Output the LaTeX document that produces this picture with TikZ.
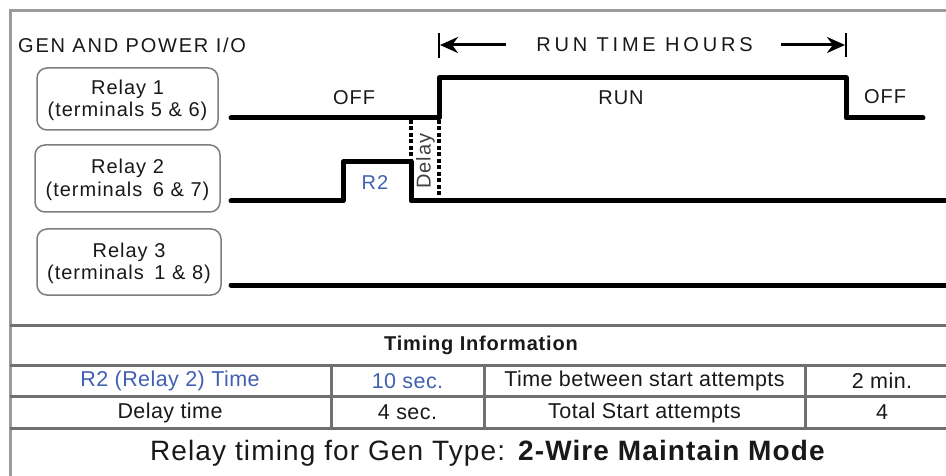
\documentclass[tikz,border=0pt]{standalone}
\usepackage{fontspec}
\setmainfont{Liberation Sans}[LetterSpace=5]
\usetikzlibrary{arrows.meta}
\definecolor{frameg}{RGB}{155,155,155}
\definecolor{tblg}{RGB}{112,112,112}
\definecolor{boxg}{RGB}{125,125,125}
\definecolor{bluet}{RGB}{66,96,178}
\definecolor{txt}{RGB}{25,25,25}
\tikzset{
  sig/.style={line width=5pt, line cap=round, line join=round, black},
  dotline/.style={line width=4.5pt, dash pattern=on 4pt off 2.5pt, black},
  relaybox/.style={draw=boxg, line width=1.5pt, rounded corners=10pt, align=center,
    inner sep=0pt, text=txt, font=\fontsize{20}{22.5}\selectfont},
  lbl/.style={text=txt, inner sep=0pt, font=\fontsize{20}{23}\selectfont},
  tline/.style={draw=tblg, line width=3pt},
  cell/.style={inner sep=0pt, text=txt, font=\fontsize{21.5}{23}\selectfont\addfontfeature{LetterSpace=2}},
  bar/.style={line width=1.5pt, black},
  rtarrow/.style={line width=3pt, black, -{Stealth[length=18pt,width=16pt]}},
}
\begin{document}
\begin{tikzpicture}[x=1pt,y=-1pt]
\useasboundingbox (0,0) rectangle (946,476);
\clip (0,0) rectangle (946,476);
\fill[white] (0,0) rectangle (946,476);

% outer frame
\draw[frameg, line width=3pt] (10,490) -- (10,10.5) -- (970,10.5);

% header
\node[lbl, anchor=west, font=\fontsize{20}{23}\selectfont\addfontfeature{LetterSpace=9}] (hdr) at (18,45) {GEN AND POWER I/O};

% relay boxes
\node[relaybox, minimum width=181pt, minimum height=62pt] (r1) at (127.5,99) {};
\node[relaybox, minimum width=185pt, minimum height=67pt] (r2) at (127.5,178.5) {};
\node[relaybox, minimum width=184pt, minimum height=66pt] (r3) at (129,262) {};
\node[relaybox, draw=none] (t1) at ([yshift=-1.5pt]r1.center) {Relay 1\\(terminals 5 \& 6)};
\node[relaybox, draw=none] (t2) at ([yshift=-1.5pt]r2.center) {Relay 2\\(terminals\hspace{4pt} 6 \& 7)};
\node[relaybox, draw=none] (t3) at ([yshift=-1.5pt]r3.center) {Relay 3\\(terminals\hspace{4pt} 1 \& 8)};

% signals
\draw[sig] (231,118) -- (439,118) -- (439,78) -- (846,78) -- (846,118) -- (923,118);
\draw[sig] (231,201) -- (343,201) -- (343,162) -- (411,162) -- (411,201) -- (970,201);
\draw[sig] (231,285) -- (970,285);

% delay dotted lines
\draw[dotline] (411,120) -- (411,199);
\draw[dotline] (439,120) -- (439,199);
\node[lbl, rotate=90, text=black!75] (dly) at (425.5,161) {Delay};

% labels
\node[lbl] (off1) at (354,98) {OFF};
\node[lbl] (run) at (621,98) {RUN};
\node[lbl] (off2) at (885,97) {OFF};
\node[lbl, text=bluet] (r2lbl) at (375,183) {R2};

% run time hours
\node[lbl, font=\fontsize{20}{23}\selectfont\addfontfeature{LetterSpace=19}] (rth) at (644.5,45) {RUN TIME HOURS};
\coordinate (lb1) at (439,33); \coordinate (lb2) at (439,58);
\coordinate (rb1) at (846,33); \coordinate (rb2) at (846,57);
\coordinate (la) at (506,45); \coordinate (lt) at (440,45);
\coordinate (ra) at (781,45); \coordinate (rt) at (845,45);
\draw[bar] (lb1) -- (lb2);
\draw[bar] (rb1) -- (rb2);
\draw[rtarrow] (la) -- (lt);
\draw[rtarrow] (ra) -- (rt);

% table
\draw[tline] (10,325) -- (970,325);
\draw[tline] (10,365) -- (970,365);
\draw[tline] (10,396.5) -- (970,396.5);
\draw[tline] (10,428) -- (970,428);
\draw[tline] (331,365) -- (331,428);
\draw[tline] (484,365) -- (484,428);
\draw[tline] (805,365) -- (805,428);

\node[cell, font=\fontsize{20}{22}\selectfont\bfseries\addfontfeature{LetterSpace=4}] (ti) at (481,345) {Timing Information};
\node[cell, text=bluet] (c11) at (170,381) {R2 (Relay 2) Time};
\node[cell, text=bluet] (c12) at (407.5,381) {10 sec.};
\node[cell] (c13) at (644.5,381) {Time between start attempts};
\node[cell] (c14) at (882,381) {2 min.};
\node[cell] (c21) at (170,412.5) {Delay time};
\node[cell] (c22) at (407.5,412.5) {4 sec.};
\node[cell] (c23) at (644.5,412.5) {Total Start attempts};
\node[cell] (c24) at (882,412.5) {4};

\node[cell, font=\fontsize{28}{32}\selectfont\addfontfeature{LetterSpace=4}] (title) at (488,453) {Relay timing for Gen Type: \textbf{2-Wire Maintain Mode}};
\end{tikzpicture}
\end{document}
